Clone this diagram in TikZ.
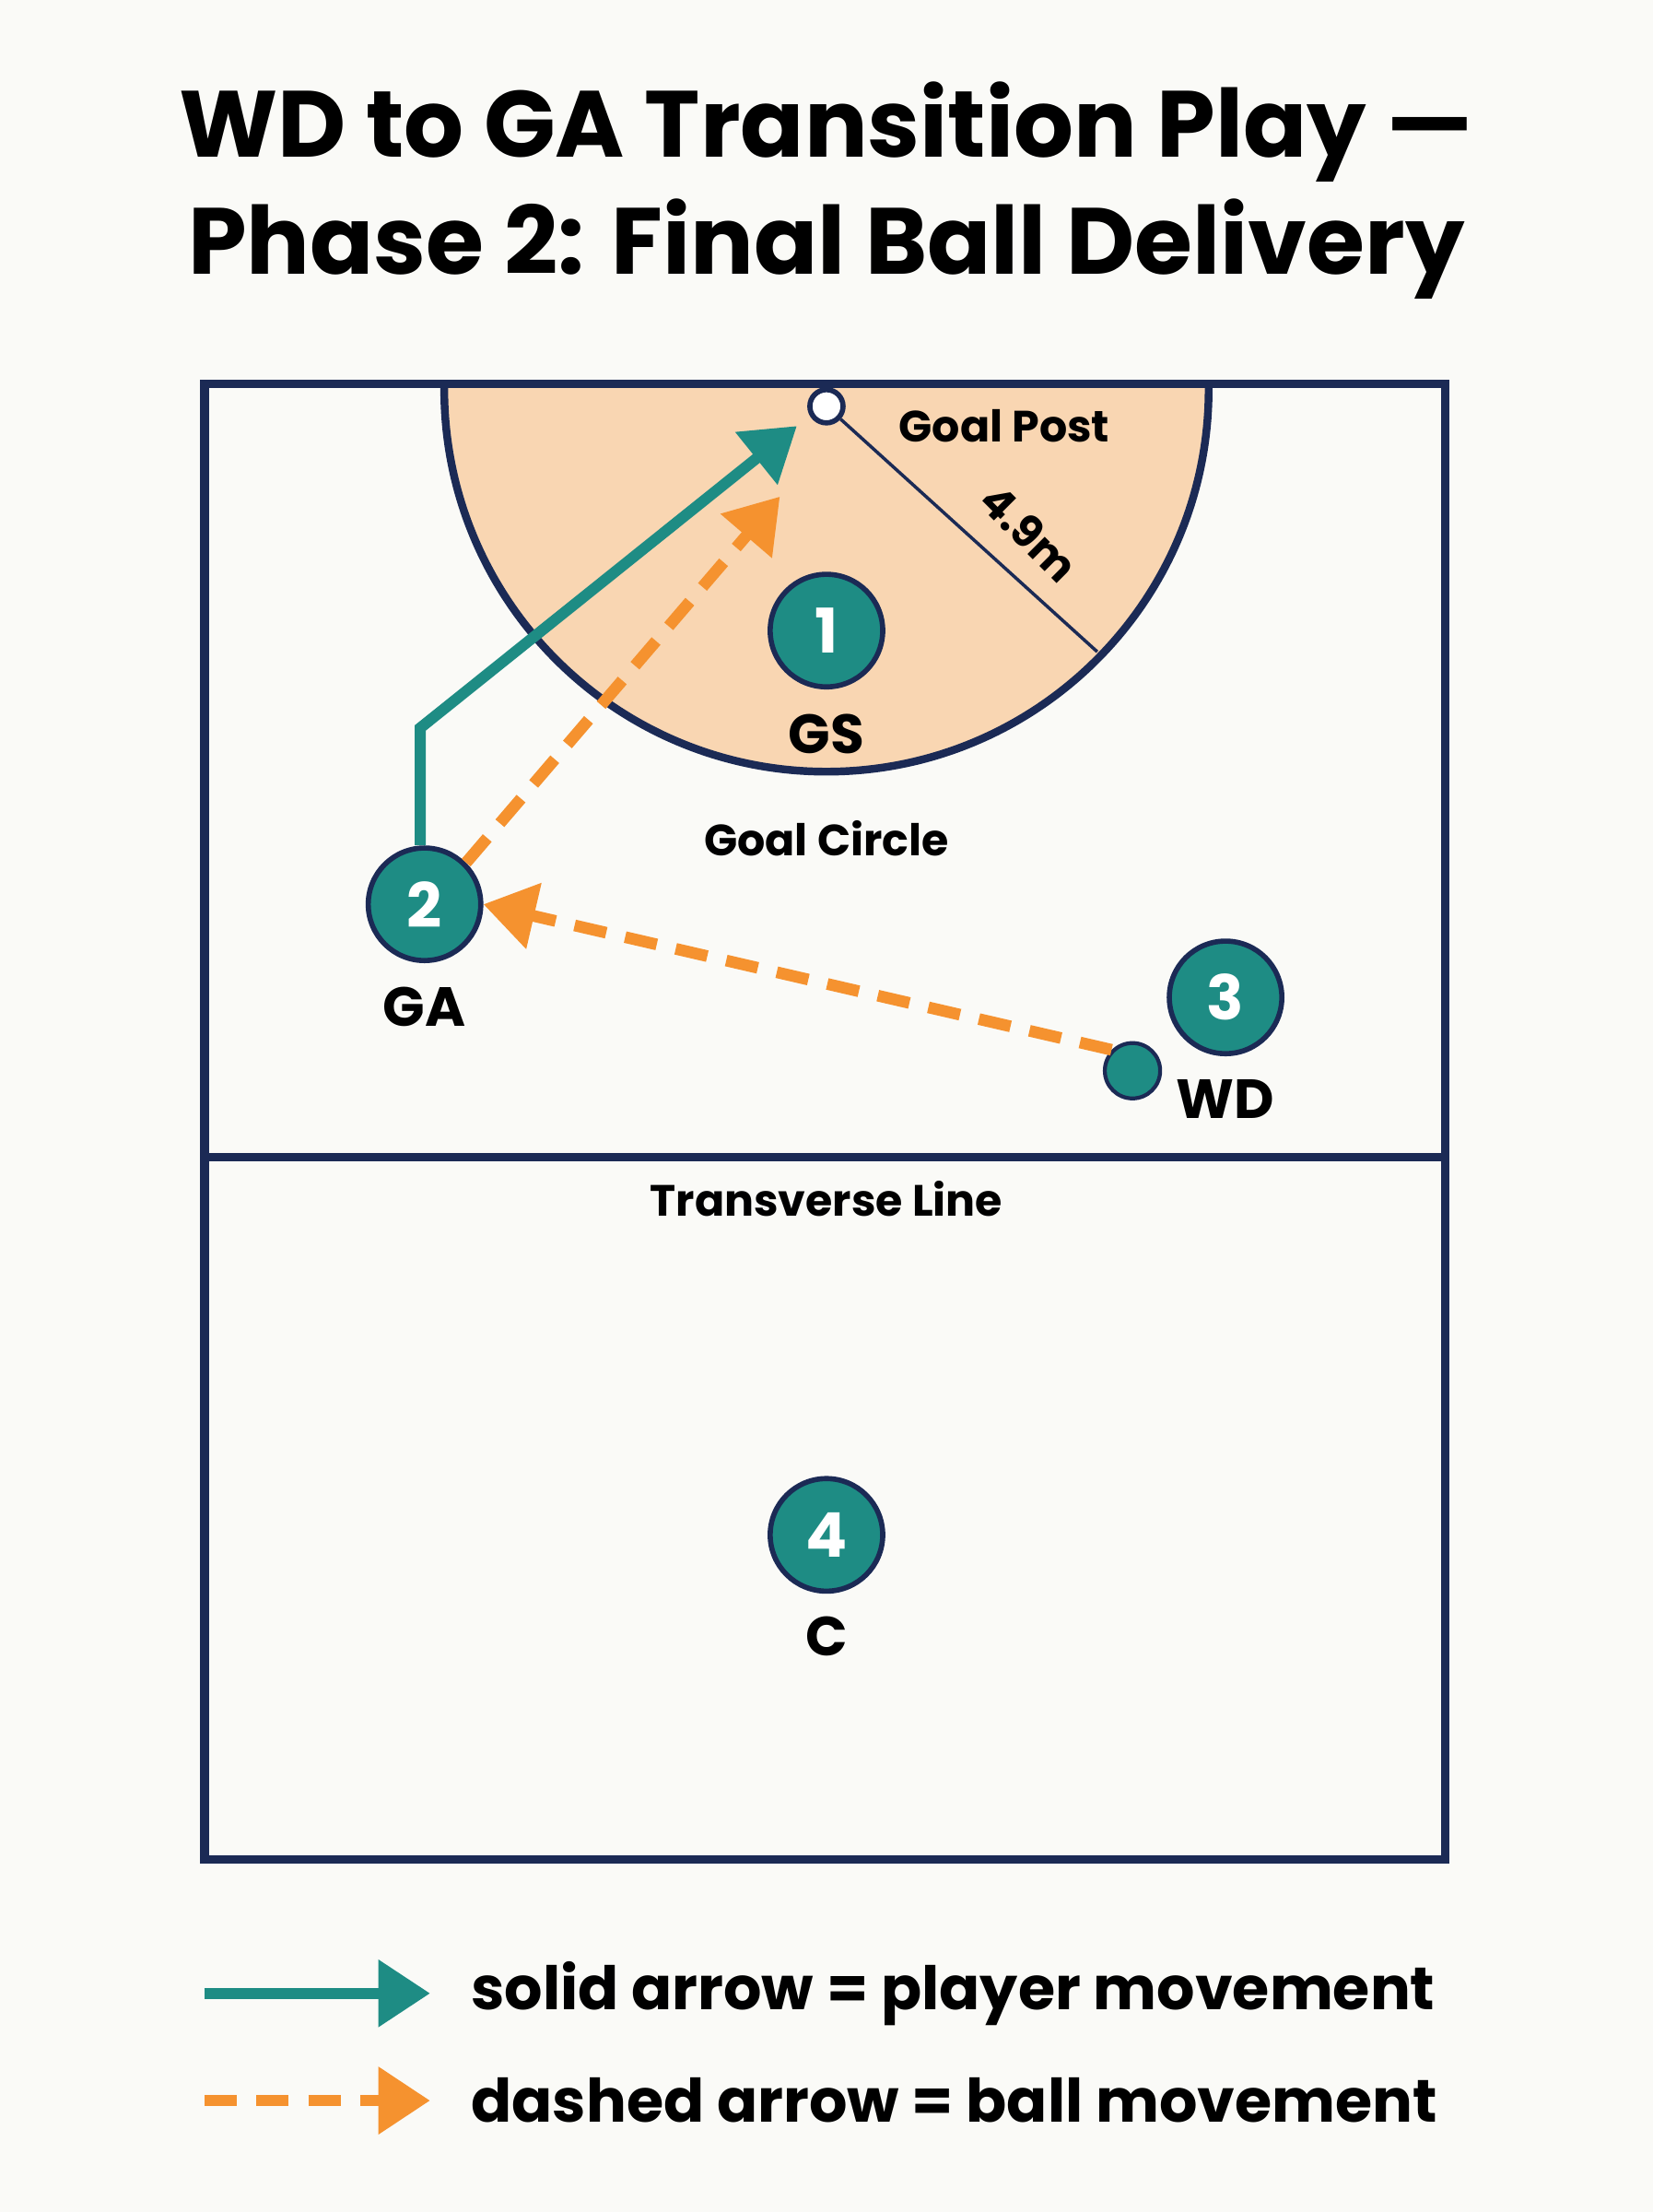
\documentclass[tikz,border=0pt]{standalone}
\usepackage{fontspec}
\setmainfont{Poppins}
\usetikzlibrary{arrows.meta}
\definecolor{navy}{HTML}{1B2A55}
\definecolor{teal}{HTML}{1E8C84}
\definecolor{peach}{HTML}{F9D6B2}
\definecolor{ballorange}{HTML}{F5922F}
\definecolor{paper}{HTML}{FAFAF7}
\tikzset{
  player/.style={circle, draw=navy, line width=1.6pt, fill=teal, minimum size=1.22cm,
    inner sep=0pt, text=white, font=\bfseries\fontsize{19}{19}\selectfont},
  role/.style={font=\bfseries\fontsize{17}{17}\selectfont, text=black},
  courtlabel/.style={font=\bfseries\fontsize{13.5}{13.5}\selectfont, text=black},
  moveArrow/.style={teal, line width=3.4pt, -{Triangle[length=16pt,width=20pt]}},
  passArrow/.style={ballorange, line width=3.6pt, dash pattern=on 10pt off 6pt,
    -{Triangle[length=16pt,width=20pt]}}
}
\begin{document}
\begin{tikzpicture}[x=0.01529cm, y=-0.01529cm]
  \fill[paper] (0,0) rectangle (1172,1568);
  \useasboundingbox (0,0) rectangle (1172,1568);

  % title
  \node[font=\bfseries\fontsize{29}{36}\selectfont, align=center] (title) at (586,135)
    {WD to GA Transition Play —\\Phase 2: Final Ball Delivery};

  % court
  \begin{scope}
    \clip (145,272) rectangle (1025,1318);
    \fill[peach] (586,276) circle (271);
    \draw[navy, line width=2.4pt] (586,276) circle (271);
  \end{scope}
  \draw[navy, line width=2.6pt] (145,272) rectangle (1025,1318);
  \draw[navy, line width=2.6pt] (145,820) -- (1025,820);

  % goal post and radius
  \node[circle, draw=navy, fill=white, line width=1.6pt, minimum size=0.36cm, inner sep=0pt] (post) at (586,288) {};
  \coordinate (rim) at (778,462);
  \draw[navy, line width=1pt] (post) -- (rim);
  \node[courtlabel, rotate=-45] (radius) at (730,378) {4.9m};
  \node[courtlabel] (postlbl) at (712,302) {Goal Post};
  \node[courtlabel] (circlelbl) at (586,594) {Goal Circle};
  \node[courtlabel] (linelbl) at (586,850) {Transverse Line};

  % players
  \node[player] (gs) at (586,447) {1};
  \node[role] at (586,520) {GS};
  \node[player] (ga) at (301,641) {2};
  \node[role] at (301,714) {GA};
  \node[player] (wd) at (869,707) {3};
  \node[role] at (869,779) {WD};
  \node[player] (c) at (586,1088) {4};
  \node[role] at (586,1160) {C};
  \node[circle, draw=navy, line width=1.2pt, fill=teal, minimum size=0.6cm, inner sep=0pt] (ball) at (803,759) {};

  % movements
  \coordinate (cut) at (298,516);
  \coordinate (target) at (565,302);
  \coordinate (shot) at (553,352);
  \draw[moveArrow] (ga.north -| cut) -- (cut) -- (target);
  \draw[passArrow] (ball.north west) -- (ga.east);
  \draw[passArrow] (ga.north east) -- (shot);

  % legend
  \coordinate (l1) at (145,1413);
  \coordinate (l1e) at (305,1413);
  \coordinate (l2) at (145,1489);
  \coordinate (l2e) at (305,1489);
  \draw[moveArrow] (l1) -- (l1e);
  \draw[passArrow] (l2) -- (l2e);
  \node[anchor=west, font=\bfseries\fontsize{18.5}{18.5}\selectfont] (leg1) at (326,1413) {solid arrow = player movement};
  \node[anchor=west, font=\bfseries\fontsize{18.5}{18.5}\selectfont] (leg2) at (326,1489) {dashed arrow = ball movement};
\end{tikzpicture}
\end{document}
